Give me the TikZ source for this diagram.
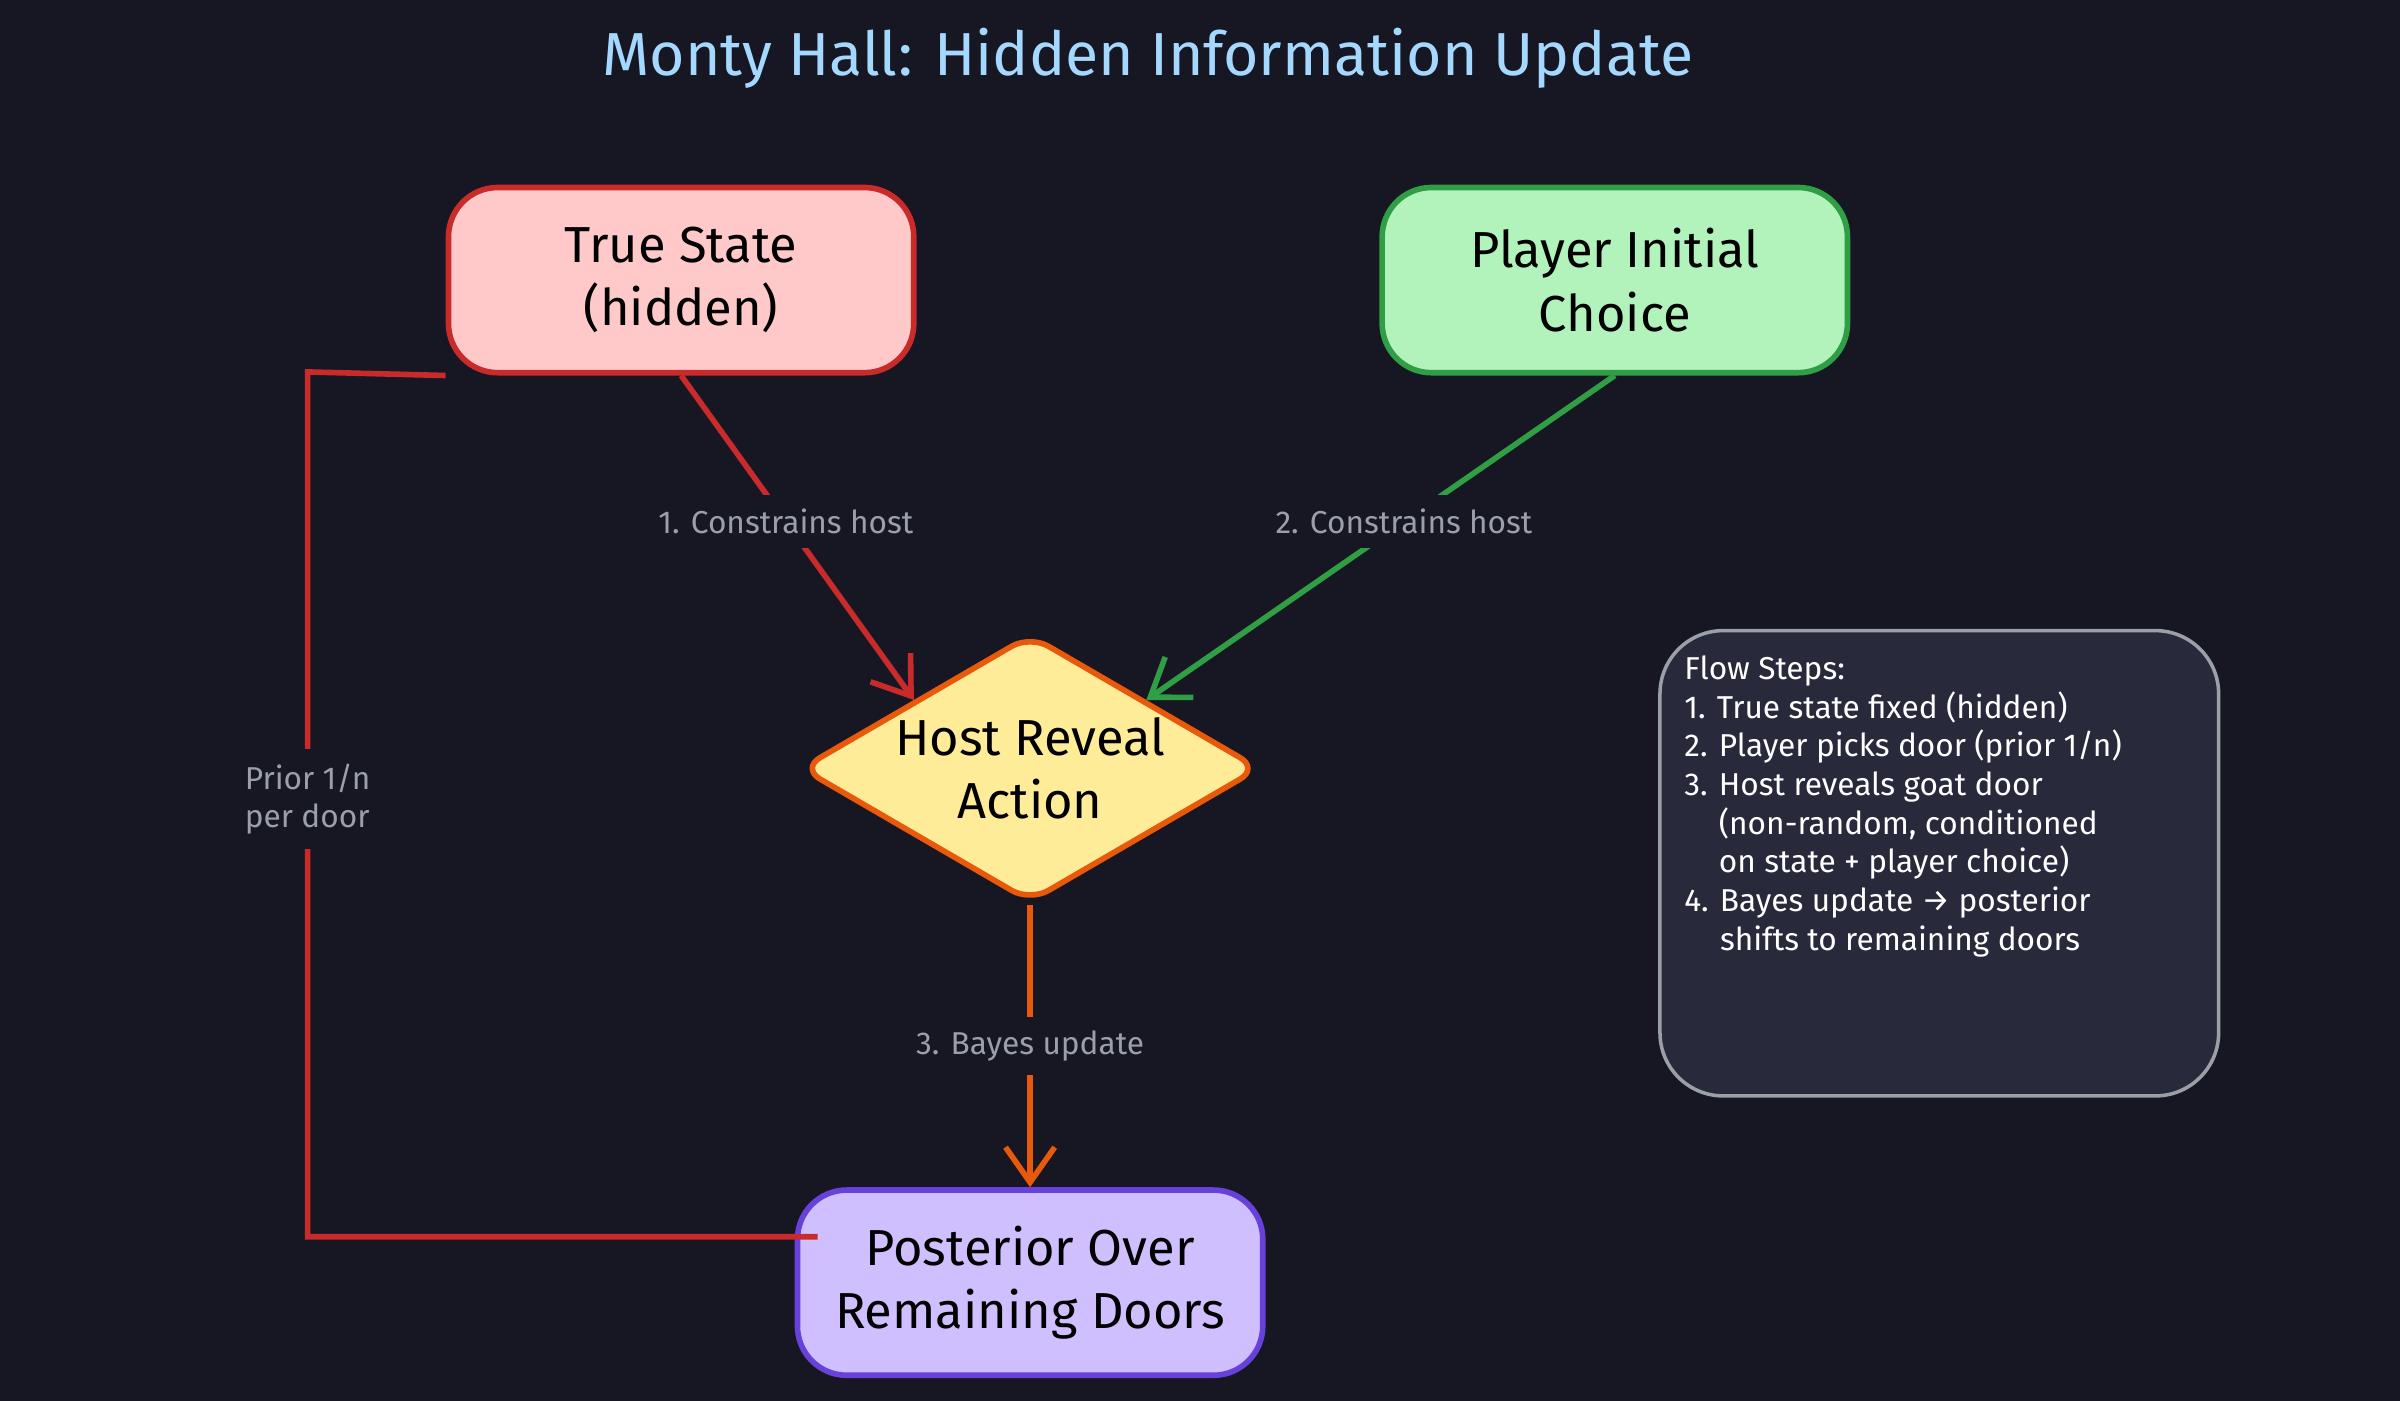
\documentclass[tikz,border=0pt]{standalone}
\usepackage{fontspec}
\setmainfont{Fira Sans}
\usepackage{tikz}
\usetikzlibrary{arrows.meta,shapes.geometric}

\definecolor{bgdark}{HTML}{161722}
\definecolor{titleblue}{HTML}{A5D8FF}
\definecolor{redfill}{HTML}{FFC9C9}
\definecolor{redline}{HTML}{C92A2A}
\definecolor{greenfill}{HTML}{B2F2BB}
\definecolor{greenline}{HTML}{2F9E44}
\definecolor{yellowfill}{HTML}{FFEC99}
\definecolor{orangeline}{HTML}{E8590C}
\definecolor{purplefill}{HTML}{D0BFFF}
\definecolor{purpleline}{HTML}{6741D9}
\definecolor{notefill}{HTML}{282A3C}
\definecolor{labelgray}{HTML}{9AA0A6}

\tikzset{
  box/.style={rounded corners=14pt,line width=1.6pt,minimum width=304\pxu,
    minimum height=121\pxu,align=center,font=\Large,text=black},
  edgelabel/.style={fill=bgdark,text=labelgray,font=\small,align=left,inner sep=4pt},
  flow/.style={line width=1.6pt,-{Straight Barb[length=10pt,width=14pt]}}
}
\newlength{\pxu}
\setlength{\pxu}{0.01531cm}

\begin{document}
\begin{tikzpicture}[x=0.01531cm,y=-0.01531cm]
\begin{scope}

    \fill[bgdark] (0,0) rectangle (1568,915);
    \useasboundingbox (0,0) rectangle (1568,915);

    \node[text=titleblue,font=\LARGE] (title) at (750,38) {Monty Hall: Hidden Information Update};

    \node[box,fill=redfill,draw=redline] (truestate) at (445,183) {True State\\(hidden)};
    \node[box,fill=greenfill,draw=greenline] (player) at (1055,183) {Player Initial\\Choice};
    \node[diamond,aspect=1.75,minimum width=300\pxu,minimum height=175\pxu,inner sep=0pt,
      fill=yellowfill,draw=orangeline,line width=1.6pt,align=center,font=\Large,rounded corners=6pt]
      (host) at (673,502) {Host Reveal\\Action};
    \node[box,fill=purplefill,draw=purpleline] (posterior) at (673,838) {Posterior Over\\Remaining Doors};

    \node[draw=labelgray,fill=notefill,rounded corners=18pt,line width=1pt,
      minimum width=365\pxu,minimum height=304\pxu] (notes) at (1267,564) {};
    \node[anchor=north west,text=white,font=\small,align=left,inner sep=0pt] (steps) at (1100,428)
      {Flow Steps:\\
       1. True state fixed (hidden)\\
       2. Player picks door (prior 1/n)\\
       3. Host reveals goat door\\
       \phantom{3. }(non-random, conditioned\\
       \phantom{3. }on state + player choice)\\
       4. Bayes update → posterior\\
       \phantom{4. }shifts to remaining doors};

    % connectors
    \draw[flow,redline] (truestate.south) -- (host.north west)
      node[edgelabel,pos=0.45] {1. Constrains host};
    \draw[flow,greenline] (player.south) -- (host.north east)
      node[edgelabel,pos=0.45] {2. Constrains host};
    \draw[flow,orangeline] (host.south) -- (posterior.north)
      node[edgelabel,midway] {3. Bayes update};

    \coordinate (priortop) at (201,243);
    \coordinate (priorbot) at (201,808);
    \draw[redline,line width=1.6pt] (truestate.south west) -- (priortop) -- (priorbot)
      -- (posterior.west |- priorbot) -- ++(15,0);
    \node[edgelabel] (priorlabel) at (201,522) {Prior 1/n\\per door};

\end{scope}
\end{tikzpicture}
\end{document}
